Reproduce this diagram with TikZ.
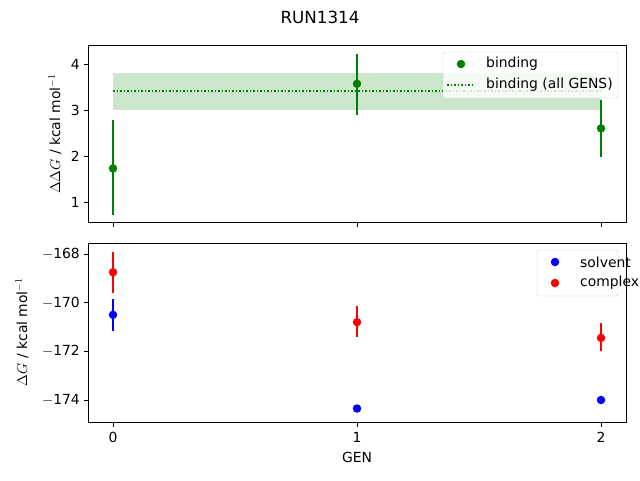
\documentclass[tikz,border=0pt]{standalone}
\usepackage{fontspec}
\setmainfont{DejaVu Sans}
\begin{document}
\begin{tikzpicture}[x=1pt,y=-1pt,
  lbl/.style={font=\fontsize{13.9}{16}\selectfont,inner sep=0},
  ax/.style={draw=black,line width=0.8pt},
  tk/.style={line width=0.8pt},
  ebar/.style={line width=1.5pt},
  dotg/.style={circle,fill=green!50!black,inner sep=0,minimum size=8.5pt},
  dotb/.style={circle,fill=blue,inner sep=0,minimum size=8.5pt},
  dotr/.style={circle,fill=red,inner sep=0,minimum size=8.5pt}]
\useasboundingbox (0,0) rectangle (640,480);
\definecolor{gg}{RGB}{0,128,0}
\node[font=\fontsize{16.7}{19}\selectfont] (title) at (320,17) {RUN1314};
% top axes
\fill[gg,opacity=0.2] (113,73) rectangle (601,110);
\draw[gg,dotted,line width=1.5pt] (113,91) -- (601,91);
\foreach \x/\v/\lo/\hi/\n in {113/1.73/0.72/2.78/a,357/3.57/2.9/4.22/b,601/2.6/1.98/3.22/c}{
  \draw[gg,ebar] (\x,248-46*\lo) -- (\x,248-46*\hi);
  \node[dotg,fill=gg] (t\n) at (\x,248-46*\v) {};
}
\draw[ax] (88,45) rectangle (626,222);
\foreach \v in {1,2,3,4}{
  \draw[tk] (88,248-46*\v) -- (83.5,248-46*\v);
  \node[lbl,anchor=east] (ty\v) at (80,248-46*\v) {\v};
}
\foreach \x in {113,357,601}{\draw[tk] (\x,222) -- (\x,226.5);}
\node[lbl,rotate=90] (tyl) at (55,134) {$\Delta\Delta G$ / kcal mol$^{-1}$};
\draw[fill=white,fill opacity=0.8,draw=black!20,rounded corners=2pt] (443,52) rectangle (618,98);
\node[dotg,fill=gg] (lg1) at (461,64) {};
\node[lbl,anchor=west] (lt1) at (486,64) {binding};
\draw[gg,dotted,line width=1.5pt] (447,85) -- (475,85);
\node[lbl,anchor=west] (lt2) at (486,85) {binding (all GENS)};
% bottom axes
\foreach \x/\v/\lo/\hi/\n in {113/-170.5/-171.15/-169.85/a,357/-174.35/-174.5/-174.2/b,601/-174.0/-174.15/-173.85/c}{
  \draw[blue,ebar] (\x,254-24.33*\lo-24.33*168) -- (\x,254-24.33*\hi-24.33*168);
  \node[dotb] (s\n) at (\x,254-24.33*\v-24.33*168) {};
}
\foreach \x/\v/\lo/\hi/\n in {113/-168.75/-169.6/-167.9/a,357/-170.8/-171.4/-170.15/b,601/-171.45/-172.0/-170.85/c}{
  \draw[red,ebar] (\x,254-24.33*\lo-24.33*168) -- (\x,254-24.33*\hi-24.33*168);
  \node[dotr] (c\n) at (\x,254-24.33*\v-24.33*168) {};
}
\draw[ax] (88,243) rectangle (626,422);
\foreach \v in {168,170,172,174}{
  \draw[tk] (88,254+24.33*\v-24.33*168) -- (83.5,254+24.33*\v-24.33*168);
  \node[lbl,anchor=east] (by\v) at (80,254+24.33*\v-24.33*168) {$-$\v};
}
\foreach \x/\g in {113/0,357/1,601/2}{
  \draw[tk] (\x,422) -- (\x,426.5);
  \node[lbl] (bx\g) at (\x,437) {\g};
}
\node[lbl] (bxl) at (357,457) {GEN};
\node[lbl,rotate=90] (byl) at (22,332) {$\Delta G$ / kcal mol$^{-1}$};
\draw[fill=white,fill opacity=0.8,draw=black!20,rounded corners=2pt] (537,250) rectangle (618,296);
\node[dotb] (lg3) at (555,262) {};
\node[lbl,anchor=west] (lt3) at (580,262) {solvent};
\node[dotr] (lg4) at (555,283) {};
\node[lbl,anchor=west] (lt4) at (580,283) {complex};
\end{tikzpicture}
\end{document}
